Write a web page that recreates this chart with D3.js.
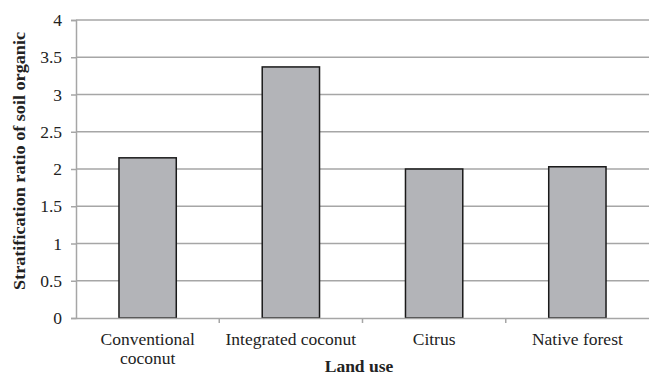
<!DOCTYPE html>
<html>
<head>
<meta charset="utf-8">
<script src="https://cdn.jsdelivr.net/npm/d3@7"></script>
<style>
  body { margin: 0; background: #fff; }
  text { font-family: "Liberation Serif", "Times New Roman", serif; fill: #222; }
</style>
</head>
<body>
<svg id="drawing_region"></svg>
<script>
const categories = [["Conventional", "coconut"], ["Integrated coconut"], ["Citrus"], ["Native forest"]];
const values = [2.15, 3.37, 2.0, 2.03];
const yticks = [0, 0.5, 1, 1.5, 2, 2.5, 3, 3.5, 4];

const width = 649, height = 373;
const margin = {top: 20, right: 0, bottom: 55, left: 76};
const inner_width = width - margin.left - margin.right;
const inner_height = 318 - margin.top;
const font_size = '17.5px';

const data = categories.map((c, i) => ({ key: c.join(" "), lines: c, value: values[i] }));

const svg = d3.select('#drawing_region')
    .attr('width', width)
    .attr('height', height);

const chart = svg.append('g')
    .attr('transform', `translate(${margin.left}, ${margin.top})`);

const xscale = d3.scaleBand()
    .domain(data.map(d => d.key))
    .range([0, inner_width])
    .paddingInner(0.6)
    .paddingOuter(0.3);

const xband = d3.scaleBand()
    .domain(data.map(d => d.key))
    .range([0, inner_width]);

const yscale = d3.scaleLinear()
    .domain([0, 4])
    .range([inner_height, 0]);

// grid lines
chart.selectAll('.grid')
    .data(yticks.filter(d => d > 0))
    .enter()
    .append('line')
    .attr('x1', 0)
    .attr('x2', inner_width)
    .attr('y1', d => yscale(d))
    .attr('y2', d => yscale(d))
    .attr('stroke', '#a6a6a6')
    .attr('stroke-width', 1.5);

// y axis
const yaxis = d3.axisLeft(yscale)
    .tickValues(yticks)
    .tickSize(5)
    .tickPadding(9)
    .tickFormat(d => d);

const yg = chart.append('g').call(yaxis)
    .attr('font-family', null)
    .attr('font-size', null);
yg.select('.domain').attr('stroke', '#a6a6a6').attr('stroke-width', 1.5);
yg.selectAll('.tick line').attr('stroke', '#a6a6a6').attr('stroke-width', 1.5);
yg.selectAll('.tick text')
    .style('font-family', '"Liberation Serif", serif')
    .style('font-size', font_size)
    .attr('fill', '#222');

// bars
chart.selectAll('rect')
    .data(data)
    .enter()
    .append('rect')
    .attr('x', d => xscale(d.key))
    .attr('y', d => yscale(d.value))
    .attr('width', xscale.bandwidth())
    .attr('height', d => inner_height - yscale(d.value))
    .attr('fill', '#b3b4b8')
    .attr('stroke', '#1a1a1a')
    .attr('stroke-width', 1.5);

// x axis
const xaxis = d3.axisBottom(xband)
    .tickSize(0)
    .tickFormat('');

const xg = chart.append('g')
    .attr('transform', `translate(0, ${inner_height})`)
    .call(xaxis)
    .attr('font-family', null)
    .attr('font-size', null);
xg.select('.domain').attr('stroke', '#a6a6a6').attr('stroke-width', 1.5);

// category separator ticks
xg.selectAll('.sep')
    .data(data.slice(1))
    .enter()
    .append('line')
    .attr('x1', d => xband(d.key))
    .attr('x2', d => xband(d.key))
    .attr('y1', 0)
    .attr('y2', 5)
    .attr('stroke', '#a6a6a6')
    .attr('stroke-width', 1.5);

// category labels
const labels = xg.selectAll('.cat')
    .data(data)
    .enter()
    .append('text')
    .attr('class', 'cat')
    .attr('text-anchor', 'middle')
    .attr('x', d => xband(d.key) + xband.bandwidth() / 2)
    .attr('y', 27)
    .style('font-size', font_size)
    .attr('fill', '#222');

labels.selectAll('tspan')
    .data(d => d.lines.map(l => ({ l, x: xband(d.key) + xband.bandwidth() / 2 })))
    .enter()
    .append('tspan')
    .attr('x', d => d.x)
    .attr('dy', (d, i) => i === 0 ? 0 : 19)
    .text(d => d.l);

// axis titles
svg.append('text')
    .attr('x', 359)
    .attr('y', 372)
    .attr('text-anchor', 'middle')
    .style('font-size', font_size)
    .style('font-weight', 'bold')
    .text('Land use');

svg.append('text')
    .attr('transform', 'translate(25, 161) rotate(-90)')
    .attr('text-anchor', 'middle')
    .attr('textLength', 258)
    .attr('lengthAdjust', 'spacingAndGlyphs')
    .style('font-size', '17.5px')
    .style('font-weight', 'bold')
    .text('Stratification ratio of soil organic');
</script>
</body>
</html>
